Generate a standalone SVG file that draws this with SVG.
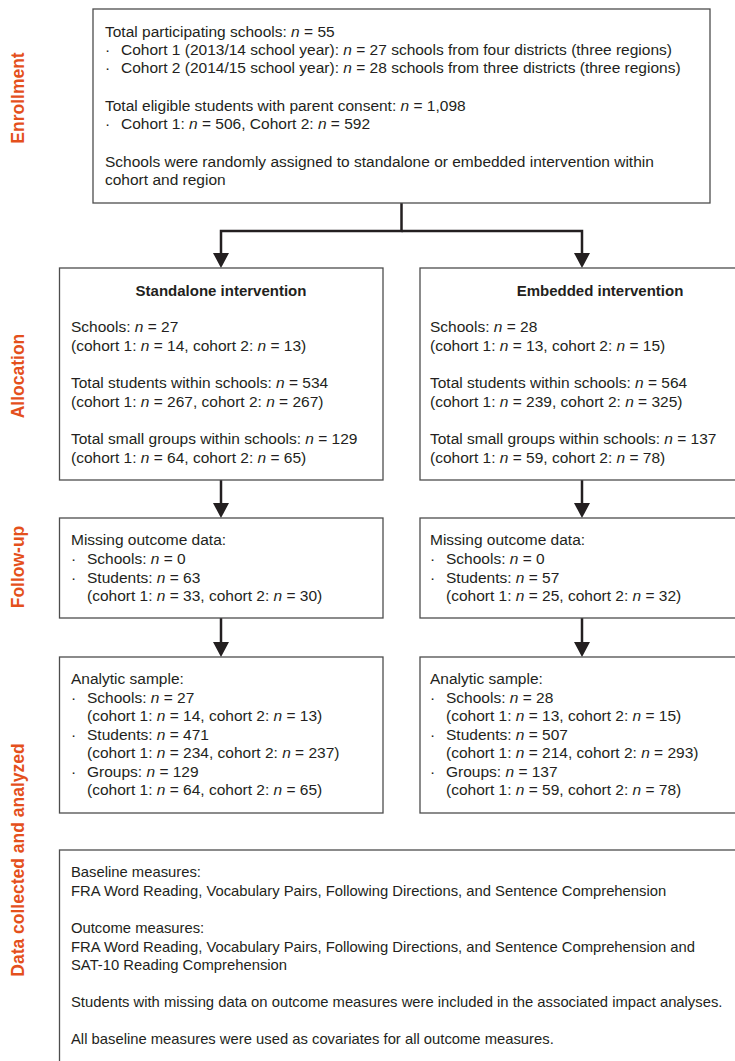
<svg xmlns="http://www.w3.org/2000/svg" width="735" height="1061" viewBox="0 0 735 1061">
<style>
.box{fill:#ffffff;stroke:#4d4d4d;stroke-width:1.3}
.t{font-family:"Liberation Sans",Arial,sans-serif;font-size:15.5px;fill:#231f20}
.s{font-size:14.8px}
.h{font-family:"Liberation Sans",Arial,sans-serif;font-size:15px;font-weight:bold;fill:#231f20;text-anchor:middle}
.lab{font-family:"Liberation Sans",Arial,sans-serif;font-size:17.5px;font-weight:bold;fill:#e4501c;text-anchor:middle}
.i{font-style:italic}
.conn{fill:none;stroke:#231f20;stroke-width:2.5}
</style>
<defs>
<marker id="arr" viewBox="0 0 15 16" refX="2" refY="8" markerWidth="15" markerHeight="16" orient="auto" markerUnits="userSpaceOnUse">
<path d="M0,0 L15,8 L0,16 z" fill="#231f20"/>
</marker>
</defs>
<rect width="735" height="1061" fill="#ffffff"/>

<g id="stage-labels">
<text class="lab" transform="translate(24,98) rotate(-90)">Enrollment</text>
<text class="lab" transform="translate(24,376) rotate(-90)">Allocation</text>
<text class="lab" transform="translate(24,567) rotate(-90)">Follow-up</text>
<text class="lab" transform="translate(24,860) rotate(-90)">Data collected and analyzed</text>
</g>

<g id="connectors">
<path class="conn" d="M401.5,203 V231 H221 V255" marker-end="url(#arr)"/>
<path class="conn" d="M401.5,231 H582 V255" marker-end="url(#arr)"/>
<path class="conn" d="M221,480 V505" marker-end="url(#arr)"/>
<path class="conn" d="M582,480 V505" marker-end="url(#arr)"/>
<path class="conn" d="M221,618 V644" marker-end="url(#arr)"/>
<path class="conn" d="M582,618 V644" marker-end="url(#arr)"/>
</g>

<g id="enrollment">
<rect class="box" x="93" y="9" width="617" height="194"/>
<text class="t" x="105" y="37">Total participating schools: <tspan class="i">n</tspan> = 55</text>
<text class="t" x="105" y="55">·</text>
<text class="t" x="121" y="55">Cohort 1 (2013/14 school year): <tspan class="i">n</tspan> = 27 schools from four districts (three regions)</text>
<text class="t" x="105" y="73">·</text>
<text class="t" x="121" y="73">Cohort 2 (2014/15 school year): <tspan class="i">n</tspan> = 28 schools from three districts (three regions)</text>
<text class="t" x="105" y="111">Total eligible students with parent consent: <tspan class="i">n</tspan> = 1,098</text>
<text class="t" x="105" y="129">·</text>
<text class="t" x="121" y="129">Cohort 1: <tspan class="i">n</tspan> = 506, Cohort 2: <tspan class="i">n</tspan> = 592</text>
<text class="t" x="105" y="167">Schools were randomly assigned to standalone or embedded intervention within</text>
<text class="t" x="105" y="185">cohort and region</text>
</g>

<g id="standalone-allocation">
<rect class="box" x="59.5" y="268" width="323.5" height="212"/>
<text class="h" x="221" y="296">Standalone intervention</text>
<text class="t" x="71" y="332">Schools: <tspan class="i">n</tspan> = 27</text>
<text class="t" x="71" y="350.5">(cohort 1: <tspan class="i">n</tspan> = 14, cohort 2: <tspan class="i">n</tspan> = 13)</text>
<text class="t" x="71" y="388">Total students within schools: <tspan class="i">n</tspan> = 534</text>
<text class="t" x="71" y="406.5">(cohort 1: <tspan class="i">n</tspan> = 267, cohort 2: <tspan class="i">n</tspan> = 267)</text>
<text class="t" x="71" y="444">Total small groups within schools: <tspan class="i">n</tspan> = 129</text>
<text class="t" x="71" y="462.5">(cohort 1: <tspan class="i">n</tspan> = 64, cohort 2: <tspan class="i">n</tspan> = 65)</text>
</g>

<g id="embedded-allocation">
<rect class="box" x="420" y="268" width="340" height="212"/>
<text class="h" x="600" y="296">Embedded intervention</text>
<text class="t" x="430" y="332">Schools: <tspan class="i">n</tspan> = 28</text>
<text class="t" x="430" y="350.5">(cohort 1: <tspan class="i">n</tspan> = 13, cohort 2: <tspan class="i">n</tspan> = 15)</text>
<text class="t" x="430" y="388">Total students within schools: <tspan class="i">n</tspan> = 564</text>
<text class="t" x="430" y="406.5">(cohort 1: <tspan class="i">n</tspan> = 239, cohort 2: <tspan class="i">n</tspan> = 325)</text>
<text class="t" x="430" y="444">Total small groups within schools: <tspan class="i">n</tspan> = 137</text>
<text class="t" x="430" y="462.5">(cohort 1: <tspan class="i">n</tspan> = 59, cohort 2: <tspan class="i">n</tspan> = 78)</text>
</g>

<g id="standalone-followup">
<rect class="box" x="59.5" y="518" width="323.5" height="100"/>
<text class="t" x="71" y="545">Missing outcome data:</text>
<text class="t" x="71" y="564">·</text>
<text class="t" x="87" y="564">Schools: <tspan class="i">n</tspan> = 0</text>
<text class="t" x="71" y="582.5">·</text>
<text class="t" x="87" y="582.5">Students: <tspan class="i">n</tspan> = 63</text>
<text class="t" x="87" y="601">(cohort 1: <tspan class="i">n</tspan> = 33, cohort 2: <tspan class="i">n</tspan> = 30)</text>
</g>

<g id="embedded-followup">
<rect class="box" x="420" y="518" width="340" height="100"/>
<text class="t" x="430" y="545">Missing outcome data:</text>
<text class="t" x="430" y="564">·</text>
<text class="t" x="446" y="564">Schools: <tspan class="i">n</tspan> = 0</text>
<text class="t" x="430" y="582.5">·</text>
<text class="t" x="446" y="582.5">Students: <tspan class="i">n</tspan> = 57</text>
<text class="t" x="446" y="601">(cohort 1: <tspan class="i">n</tspan> = 25, cohort 2: <tspan class="i">n</tspan> = 32)</text>
</g>

<g id="standalone-analytic">
<rect class="box" x="59.5" y="657" width="323.5" height="156"/>
<text class="t" x="71" y="684">Analytic sample:</text>
<text class="t" x="71" y="702.5">·</text>
<text class="t" x="87" y="702.5">Schools: <tspan class="i">n</tspan> = 27</text>
<text class="t" x="87" y="721">(cohort 1: <tspan class="i">n</tspan> = 14, cohort 2: <tspan class="i">n</tspan> = 13)</text>
<text class="t" x="71" y="739.5">·</text>
<text class="t" x="87" y="739.5">Students: <tspan class="i">n</tspan> = 471</text>
<text class="t" x="87" y="758">(cohort 1: <tspan class="i">n</tspan> = 234, cohort 2: <tspan class="i">n</tspan> = 237)</text>
<text class="t" x="71" y="776.5">·</text>
<text class="t" x="87" y="776.5">Groups: <tspan class="i">n</tspan> = 129</text>
<text class="t" x="87" y="795">(cohort 1: <tspan class="i">n</tspan> = 64, cohort 2: <tspan class="i">n</tspan> = 65)</text>
</g>

<g id="embedded-analytic">
<rect class="box" x="420" y="657" width="340" height="156"/>
<text class="t" x="430" y="684">Analytic sample:</text>
<text class="t" x="430" y="702.5">·</text>
<text class="t" x="446" y="702.5">Schools: <tspan class="i">n</tspan> = 28</text>
<text class="t" x="446" y="721">(cohort 1: <tspan class="i">n</tspan> = 13, cohort 2: <tspan class="i">n</tspan> = 15)</text>
<text class="t" x="430" y="739.5">·</text>
<text class="t" x="446" y="739.5">Students: <tspan class="i">n</tspan> = 507</text>
<text class="t" x="446" y="758">(cohort 1: <tspan class="i">n</tspan> = 214, cohort 2: <tspan class="i">n</tspan> = 293)</text>
<text class="t" x="430" y="776.5">·</text>
<text class="t" x="446" y="776.5">Groups: <tspan class="i">n</tspan> = 137</text>
<text class="t" x="446" y="795">(cohort 1: <tspan class="i">n</tspan> = 59, cohort 2: <tspan class="i">n</tspan> = 78)</text>
</g>

<g id="measures">
<rect class="box" x="59.5" y="850" width="700" height="230"/>
<text class="t s" x="71" y="877">Baseline measures:</text>
<text class="t s" x="71" y="896">FRA Word Reading, Vocabulary Pairs, Following Directions, and Sentence Comprehension</text>
<text class="t s" x="71" y="933">Outcome measures:</text>
<text class="t s" x="71" y="951.5">FRA Word Reading, Vocabulary Pairs, Following Directions, and Sentence Comprehension and</text>
<text class="t s" x="71" y="970">SAT-10 Reading Comprehension</text>
<text class="t s" x="71" y="1007">Students with missing data on outcome measures were included in the associated impact analyses.</text>
<text class="t s" x="71" y="1044">All baseline measures were used as covariates for all outcome measures.</text>
</g>
</svg>
